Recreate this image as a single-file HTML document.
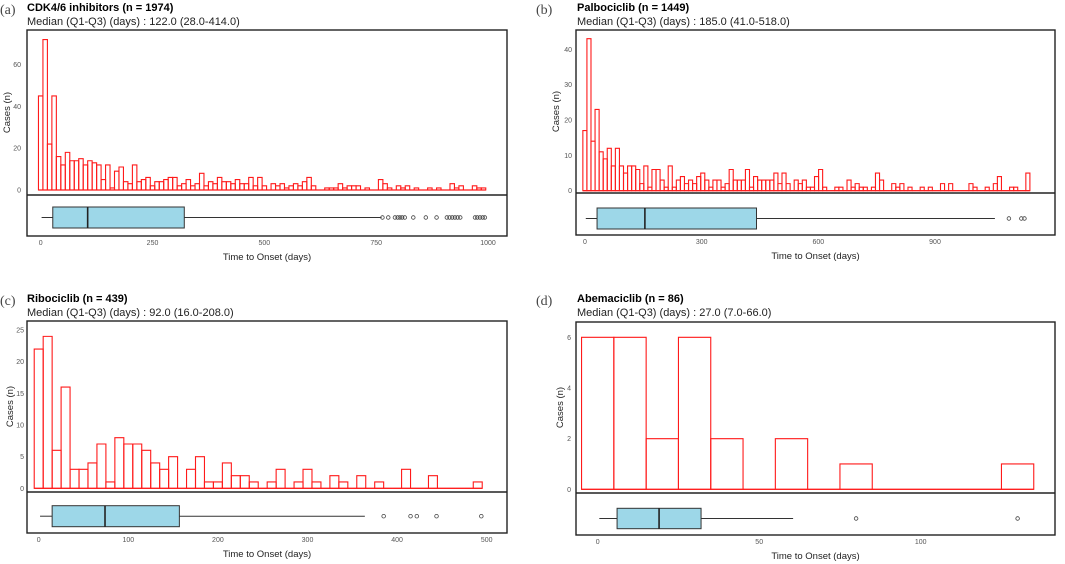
<!DOCTYPE html>
<html><head><meta charset="utf-8">
<style>
html,body{margin:0;padding:0;background:#fff;}
svg{display:block;font-family:"Liberation Sans",sans-serif;}
.tick{font-size:7px;fill:#555;}
.axt{font-size:9.5px;fill:#222;}
.ttl{font-size:11px;font-weight:bold;fill:#000;}
.sub{font-size:11px;fill:#222;}
.lab{font-family:"Liberation Serif",serif;font-size:14px;fill:#444;}
</style></head>
<body>
<svg id="chart" width="1065" height="564" viewBox="0 0 1065 564"></svg>
<script>
// ---- Data ----
const countsA=[45,72,22,45,16,12,18,14,14,15,12,14,13,12,5,12,1,9,11,4,3,12,4,5,6,2,4,4,5,6,6,2,3,5,2,3,8,2,4,3,6,4,4,3,5,3,3,6,2,6,2,0,3,2,3,1,2,3,2,4,6,2,0,0,1,1,1,3,1,2,2,2,0,1,0,0,5,3,1,0,2,1,2,0,1,0,0,1,0,1,0,0,3,1,2,0,0,2,1,1];
const countsB=[17,43,14,23,11,9,12,7,12,7,5,7,7,6,2,7,1,6,6,3,1,7,1,3,4,2,3,2,4,5,3,1,3,3,1,2,6,3,3,3,6,1,4,3,3,3,3,5,2,5,2,0,3,2,3,1,1,4,6,1,0,0,1,1,0,3,1,2,1,1,0,1,5,3,0,0,2,1,2,0,1,0,0,1,0,1,0,0,2,0,2,0,0,0,0,2,1,0,0,1,0,2,4,0,0,1,1,0,0,5];
const countsC=[22,24,6,16,3,3,4,7,1,8,7,7,6,4,3,5,0,3,5,1,1,4,2,2,1,0,1,3,0,1,3,1,0,2,1,0,2,0,1,0,0,3,0,0,2,0,0,0,0,1];
const countsD=[6,6,2,6,2,0,2,0,1,0,0,0,0,1];
const boxA=[2,27,105,321,762]; const outA=[764,777,792,798,803,808,814,833,861,885,908,914,920,926,932,938,971,976,982,988,993];
const boxB=[2,31,154,441,1054]; const outB=[1090,1122,1130];
const boxC=[1.5,15,74,157,364]; const outC=[385,415,422,444,494];
const boxD=[0.5,6,19,32,60.5]; const outD=[80,130];
const ticksYA=[0,20,40,60], ticksXA=[0,250,500,750,1000];
const ticksYB=[0,10,20,30,40], ticksXB=[0,300,600,900];
const ticksYC=[0,5,10,15,20,25], ticksXC=[0,100,200,300,400,500];
const ticksYD=[0,2,4,6], ticksXD=[0,50,100];
const titles=["CDK4/6 inhibitors (n = 1974)","Palbociclib (n = 1449)","Ribociclib (n = 439)","Abemaciclib (n = 86)"];
const subtitles=["Median (Q1-Q3) (days) : 122.0 (28.0-414.0)","Median (Q1-Q3) (days) : 185.0 (41.0-518.0)","Median (Q1-Q3) (days) : 92.0 (16.0-208.0)","Median (Q1-Q3) (days) : 27.0 (7.0-66.0)"];

const NS="http://www.w3.org/2000/svg";
const svg=document.getElementById('chart');
function mk(tag,attrs,parent,text){const e=document.createElementNS(NS,tag);for(const k in attrs)e.setAttribute(k,attrs[k]);if(text!==undefined)e.textContent=text;(parent||svg).appendChild(e);return e;}

const panels=[
 {id:'a',label:'(a)',lx:0,counts:countsA,bw:10,b0:-5,box:boxA,out:outA,ty:ticksYA,tx:ticksXA,
  L:27,R:507,T:30,S:195,B:236,x0:40.7,xk:0.4473,y0:190,yk:2.09,bt:207,bb:228,ytx:21,ttlx:7,ttly:24,titleY:[11,25]},
 {id:'b',label:'(b)',lx:536,counts:countsB,bw:10.45,b0:-5.5,box:boxB,out:outB,ty:ticksYB,tx:ticksXB,
  L:576,R:1055,T:30,S:193,B:235,x0:585,xk:0.3889,y0:190.7,yk:3.535,bt:208,bb:229,ytx:572,ttlx:556,ttly:120,titleY:[11,25]},
 {id:'c',label:'(c)',lx:0,counts:countsC,bw:10,b0:-5,box:boxC,out:outC,ty:ticksYC,tx:ticksXC,
  L:27,R:507,T:321,S:492,B:533,x0:38.7,xk:0.896,y0:488.3,yk:6.33,bt:505.7,bb:526.7,ytx:24,ttlx:10,ttly:408,titleY:[302,316]},
 {id:'d',label:'(d)',lx:536,counts:countsD,bw:10,b0:-5,box:boxD,out:outD,ty:ticksYD,tx:ticksXD,
  L:576,R:1055,T:322,S:493,B:535,x0:597.7,xk:3.23,y0:489.3,yk:25.33,bt:508.3,bb:528.7,ytx:571,ttlx:560,ttly:408,titleY:[302,316]}
];

panels.forEach((p,pi)=>{
  const g=mk('g',{});
  
  
  const X=v=>p.x0+v*p.xk, Y=v=>p.y0-v*p.yk;
  const lab=mk('text',{x:p.lx,y:p.titleY[0]+3,class:'lab'},g,p.label);
  
  
  const t=mk('text',{x:p.L+(p.id==='a'||p.id==='c'?0:1),y:p.titleY[0],class:'ttl'},g,titles[pi]);
  
  
  const s=mk('text',{x:p.L+(p.id==='a'||p.id==='c'?0:1),y:p.titleY[1],class:'sub'},g,subtitles[pi]);
  
  
  // baseline
  const n=p.counts.length;
  const bl=mk('line',{x1:X(p.b0),x2:X(p.b0+n*p.bw),y1:p.y0,y2:p.y0,stroke:'#ff1a1a','stroke-width':1.2},g);
  
  
  // histogram bars
  p.counts.forEach((c,i)=>{
    const x1=X(p.b0+i*p.bw), x2=X(p.b0+(i+1)*p.bw);
    const r=mk('path',{d:`M${x1},${p.y0}V${Y(c)}H${x2}V${p.y0}Z`,fill:'none',stroke:'#ff1a1a','stroke-width':1.1},g);
    
    
  });
  // y ticks
  p.ty.forEach(v=>{
    const tt=mk('text',{x:p.ytx,y:Y(v)+2.5,class:'tick','text-anchor':'end'},g,String(v));
    
    
  });
  // boxplot
  const bx=p.box, cy=(p.bt+p.bb)/2;
  const w1=mk('line',{x1:X(bx[0]),x2:X(bx[1]),y1:cy,y2:cy,stroke:'#333','stroke-width':1},g);
  
  
  const w2=mk('line',{x1:X(bx[3]),x2:X(bx[4]),y1:cy,y2:cy,stroke:'#333','stroke-width':1},g);
  
  
  const br=mk('rect',{x:X(bx[1]),y:p.bt,width:X(bx[3])-X(bx[1]),height:p.bb-p.bt,fill:'#9dd7e8',stroke:'#333','stroke-width':1},g);
  
  
  const md=mk('line',{x1:X(bx[2]),x2:X(bx[2]),y1:p.bt,y2:p.bb,stroke:'#222','stroke-width':1.6},g);
  
  
  p.out.forEach(o=>{
    const c=mk('circle',{cx:X(o),cy:cy,r:1.8,fill:'none',stroke:'#444','stroke-width':0.8},g);
    
    
  });
  // frame
  const f=mk('rect',{x:p.L,y:p.T,width:p.R-p.L,height:p.B-p.T,fill:'none',stroke:'#222','stroke-width':1.4},g);
  
  
  const sp=mk('line',{x1:p.L,x2:p.R,y1:p.S,y2:p.S,stroke:'#222','stroke-width':1.4},g);
  
  
  // x ticks
  p.tx.forEach(v=>{
    const tt=mk('text',{x:X(v),y:p.B+9,class:'tick','text-anchor':'middle'},g,String(v));
    
    
  });
  const xt=mk('text',{x:(p.L+p.R)/2,y:p.B+24,class:'axt','text-anchor':'middle'},g,'Time to Onset (days)');
  
  
  const yc=(p.T+p.S)/2;
  const yt=mk('text',{x:p.ttlx,y:yc,class:'axt','text-anchor':'middle',transform:`rotate(-90 ${p.ttlx} ${yc})`,dy:'3'},g,'Cases (n)');
  
  
});
</script>
</body></html>
